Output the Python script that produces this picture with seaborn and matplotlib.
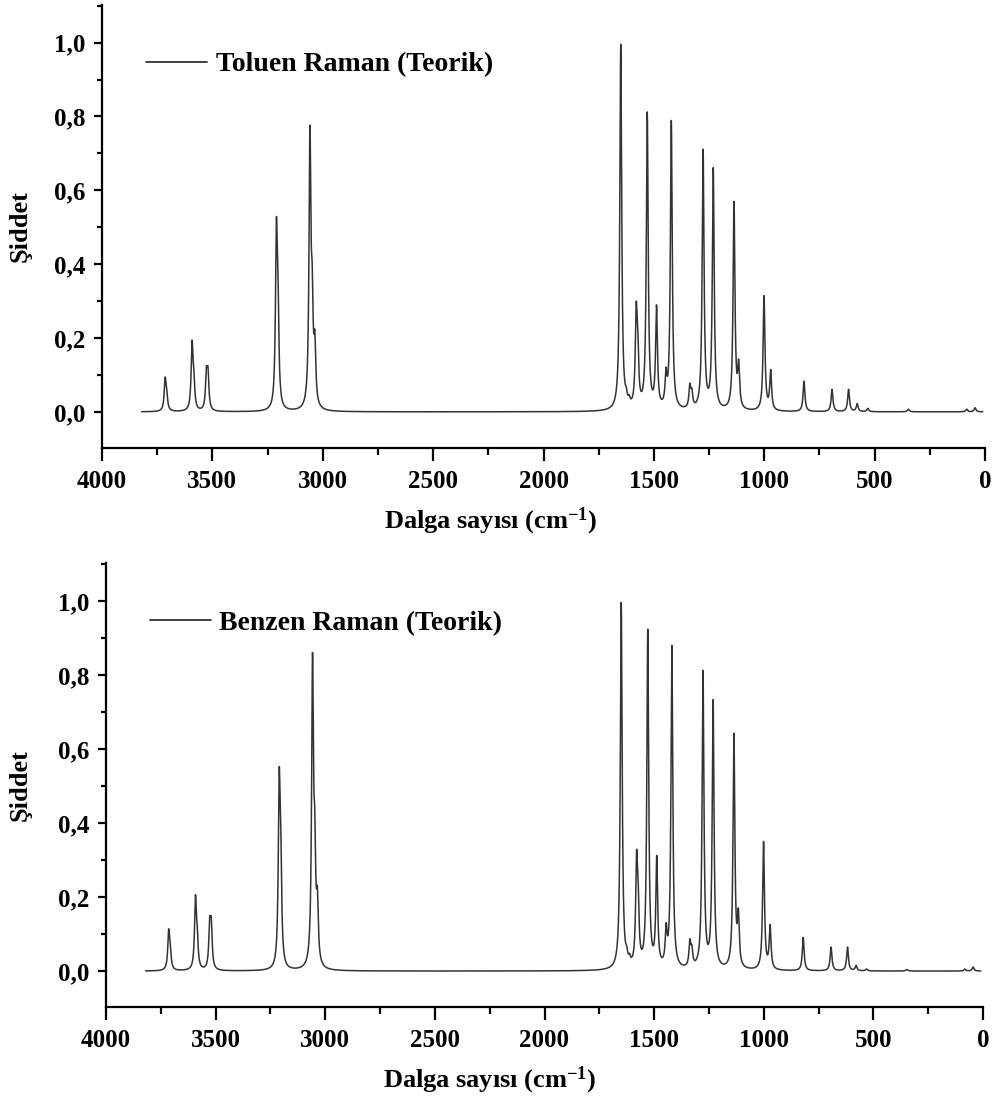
import numpy as np
import pandas as pd
import matplotlib
matplotlib.use("Agg")
import matplotlib.pyplot as plt
from matplotlib.ticker import FixedLocator, FixedFormatter, MultipleLocator
import seaborn as sns

# Computed Raman lines (wavenumber in cm-1, relative activity)
toluene_freq = [3714, 3707, 3592, 3584, 3527, 3520, 3210, 3203, 3058, 3048, 3036,
                1650, 1625, 1612, 1580, 1573, 1530, 1488, 1445, 1421, 1337, 1328,
                1277, 1231, 1137, 1116, 1001, 971, 820, 693, 618, 579, 531, 347, 83, 45]
toluene_int = [0.082, 0.035, 0.175, 0.065, 0.09, 0.09, 0.45, 0.23, 0.72, 0.24, 0.15,
               0.99, 0.02, 0.015, 0.24, 0.13, 0.80, 0.27, 0.08, 0.78, 0.058, 0.038,
               0.70, 0.65, 0.56, 0.11, 0.31, 0.105, 0.082, 0.06, 0.06, 0.021, 0.009, 0.007, 0.007, 0.011]

benzene_freq = [3714, 3707, 3592, 3584, 3527, 3520, 3210, 3203, 3058, 3048, 3036,
                1650, 1625, 1612, 1580, 1573, 1529, 1488, 1445, 1419, 1337, 1328,
                1277, 1231, 1136, 1116, 1001, 971, 820, 693, 618, 579, 531, 347, 83, 45]
benzene_int = [0.10, 0.04, 0.185, 0.07, 0.108, 0.108, 0.47, 0.24, 0.80, 0.26, 0.15,
               0.99, 0.02, 0.015, 0.265, 0.14, 0.91, 0.29, 0.09, 0.87, 0.065, 0.042,
               0.80, 0.72, 0.63, 0.13, 0.345, 0.115, 0.09, 0.064, 0.064, 0.014, 0.005, 0.004, 0.005, 0.011]

series_labels = ["Toluen Raman (Teorik)", "Benzen Raman (Teorik)"]

x_ticks = [4000, 3500, 3000, 2500, 2000, 1500, 1000, 500, 0]
x_tick_labels = ["4000", "3500", "3000", "2500", "2000", "1500", "1000", "500", "0"]
y_ticks = [0.0, 0.2, 0.4, 0.6, 0.8, 1.0]
y_tick_labels = ["0,0", "0,2", "0,4", "0,6", "0,8", "1,0"]

x_label = "Dalga sayısı (cm$^{\\mathbf{-1}}$)"
y_label = "Şiddet"

FWHM = 10.0  # Lorentzian line width, cm-1


def broadened(freqs, ints, grid, fwhm=FWHM):
    hw = fwhm / 2.0
    spec = np.zeros_like(grid, dtype=float)
    for f, a in zip(freqs, ints):
        spec += a / (1.0 + ((grid - f) / hw) ** 2)
    return spec


grid = np.arange(3820.0, 9.0, -1.0)

sns.set_style("ticks")
plt.rcParams["font.family"] = ["Liberation Serif", "DejaVu Serif"]
plt.rcParams["font.weight"] = "bold"
plt.rcParams["text.color"] = "black"
plt.rcParams["axes.labelcolor"] = "black"
plt.rcParams["xtick.color"] = "black"
plt.rcParams["ytick.color"] = "black"
plt.rcParams["mathtext.fontset"] = "custom"
plt.rcParams["mathtext.rm"] = "Liberation Serif:bold"
plt.rcParams["mathtext.bf"] = "Liberation Serif:bold"
plt.rcParams["mathtext.it"] = "Liberation Serif:bold"

fig = plt.figure(figsize=(10, 11.06), dpi=100)
ax_top = fig.add_axes([0.102, 0.5952, 0.883, 0.4003])
ax_bot = fig.add_axes([0.106, 0.0895, 0.877, 0.4014])

panels = [
    (ax_top, toluene_freq, toluene_int, series_labels[0]),
    (ax_bot, benzene_freq, benzene_int, series_labels[1]),
]

for ax, freqs, ints, lab in panels:
    df = pd.DataFrame({"wavenumber": grid, "intensity": broadened(freqs, ints, grid)})
    sns.lineplot(data=df, x="wavenumber", y="intensity", ax=ax, color="#333333",
                 lw=1.1, estimator=None, sort=False, label=lab)

    ax.set_xlim(4000, 0)
    ax.set_ylim(-0.097, 1.102)
    ax.xaxis.set_major_locator(FixedLocator(x_ticks))
    ax.xaxis.set_major_formatter(FixedFormatter(x_tick_labels))
    ax.xaxis.set_minor_locator(MultipleLocator(250))
    ax.yaxis.set_major_locator(FixedLocator(y_ticks))
    ax.yaxis.set_major_formatter(FixedFormatter(y_tick_labels))
    ax.yaxis.set_minor_locator(MultipleLocator(0.1))

    for side in ("top", "right"):
        ax.spines[side].set_visible(False)
    for side in ("left", "bottom"):
        ax.spines[side].set_linewidth(1.6)
        ax.spines[side].set_color("black")

    ax.tick_params(axis="x", which="major", direction="out", length=9, width=1.6,
                   labelsize=18, pad=7, colors="black")
    ax.tick_params(axis="x", which="minor", direction="out", length=5, width=1.6)
    ax.tick_params(axis="y", which="major", direction="out", length=6, width=1.6,
                   labelsize=18, pad=6, colors="black")
    ax.tick_params(axis="y", which="minor", direction="out", length=3.5, width=1.6)
    for t in ax.get_xticklabels() + ax.get_yticklabels():
        t.set_fontweight("bold")

    ax.set_xlabel(x_label, fontsize=19, fontweight="bold")
    ax.set_ylabel(y_label, fontsize=19, fontweight="bold")

    leg = ax.legend(loc="center left", frameon=False, fontsize=20, handlelength=2.2,
                    handletextpad=0.3, borderpad=0, borderaxespad=0,
                    bbox_to_anchor=(0.05, 0.865))
    for t in leg.get_texts():
        t.set_fontweight("bold")
        t.set_color("black")
    for h in leg.get_lines():
        h.set_linewidth(1.3)

ax_top.xaxis.set_label_coords(0.4405, -0.13)
ax_bot.xaxis.set_label_coords(0.438, -0.13)
ax_top.yaxis.set_label_coords(-0.08, 0.5)
ax_bot.yaxis.set_label_coords(-0.085, 0.5)

fig.savefig("out.png", dpi=100)
